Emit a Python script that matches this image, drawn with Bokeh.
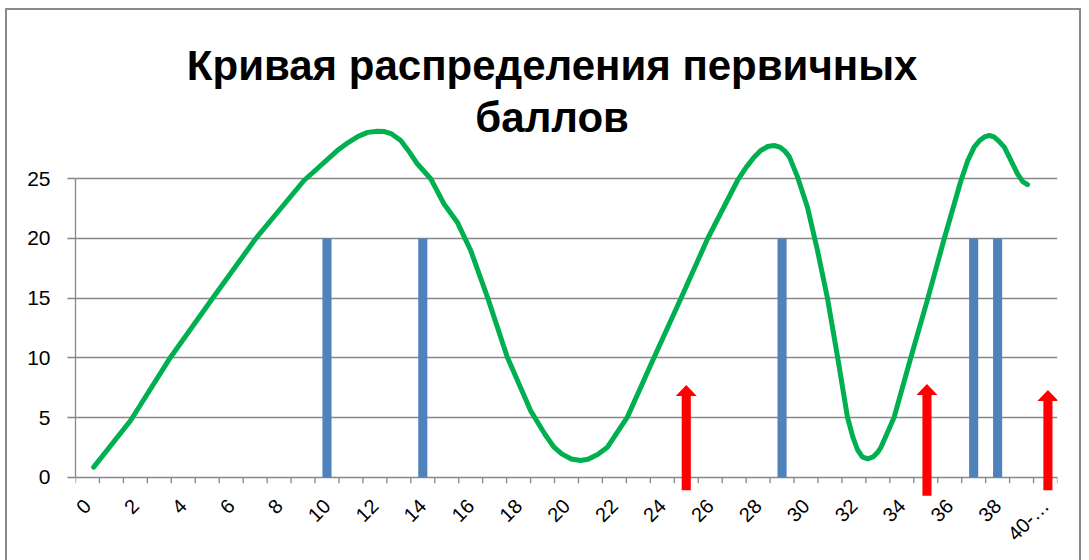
import math
import numpy as np
from bokeh.plotting import figure
from bokeh.models import FixedTicker, Label, ColumnDataSource, Range1d
from bokeh.embed import file_html
from bokeh.resources import INLINE

# ---------------- data ----------------
title_lines = ["Кривая распределения первичных", "баллов"]

x_tick_pos = [0, 2, 4, 6, 8, 10, 12, 14, 16, 18, 20, 22, 24, 26, 28, 30, 32, 34, 36, 38, 40]
x_tick_labels = ["0", "2", "4", "6", "8", "10", "12", "14", "16", "18", "20", "22", "24",
                 "26", "28", "30", "32", "34", "36", "38", "40-…"]
n_categories = 41
y_ticks = [0, 5, 10, 15, 20, 25]

bar_x = [10, 14, 29, 37, 38]
bar_values = [20, 20, 20, 20, 20]

curve_x = [0.26, 1.80, 3.47, 5.21, 7.02, 9.04, 10.43, 10.9, 11.3, 11.7, 12.10, 12.4, 12.7,
           13.08, 13.4, 13.77, 14.33,
           14.88, 15.44, 16.0, 16.70, 17.53, 18.5, 19.1, 19.48, 19.8, 20.2, 20.59, 20.9, 21.3,
           21.71, 22.54, 23.66, 24.77, 25.89, 27.14, 27.5, 27.83, 28.1, 28.4, 28.67, 28.9,
           29.1, 29.3, 29.65, 30.06, 30.48, 30.90, 31.32, 31.73, 31.95, 32.15, 32.35, 32.57,
           32.8, 33.0, 33.13, 33.68, 34.38, 35.08, 35.77, 36.47, 36.75, 37.02, 37.25, 37.45,
           37.65, 37.85, 38.05, 38.28, 38.55, 38.83, 39.05, 39.25]
curve_y = [0.84, 4.75, 10.05, 14.94, 19.97, 24.85, 27.36, 28.05, 28.55, 28.88, 28.98, 28.95,
           28.75, 28.2, 27.35, 26.25, 25.0,
           22.9, 21.36, 18.99, 15.08, 10.05, 5.58, 3.6, 2.51, 1.95, 1.52, 1.40, 1.5, 1.9,
           2.51, 5.03, 10.05, 14.94, 19.97, 24.85, 25.95, 26.8, 27.35, 27.7, 27.78, 27.65,
           27.35, 26.85, 25.13, 22.61, 18.99, 14.94, 10.05, 5.03, 3.4, 2.3, 1.7, 1.54,
           1.7, 2.1, 2.51, 5.03, 10.05, 14.94, 19.97, 24.85, 26.5, 27.64, 28.2, 28.5,
           28.62, 28.5, 28.15, 27.64, 26.55, 25.41, 24.75, 24.51]

arrow_x = [25.0, 35.05, 40.1]
arrow_top = [7.72, 7.8, 7.3]
arrow_bottom = [-1.1, -1.55, -1.1]

# ---------------- styles ----------------
GRID = "#878787"
BAR = "#4F81BD"
GREEN = "#00B050"
RED = "#FF0000"
FONT = "Liberation Sans"
BAR_W = 0.38
HEAD_HW = 0.44
HEAD_H = 0.92
SHAFT_W = 0.38
TICK_LEN = 0.5

p = figure(frame_width=982, frame_height=477,
           min_border_left=75, min_border_right=32, min_border_top=20, min_border_bottom=63,
           x_range=Range1d(-0.5, n_categories - 0.5), y_range=Range1d(-1.70, 38.25),
           output_backend="svg", toolbar_location=None)
p.outline_line_color = None
p.background_fill_color = "white"
p.border_fill_color = None
p.styles = {"background-color": "white",
            "box-shadow": ("inset 5px 8px 0 0 white, inset -8px 0 0 0 white, "
                           "inset 7px 10px 0 0 #8a8a8a, inset -10px 0 0 0 #8a8a8a")}

# x axis: labels from the library axis; its own line/ticks replaced by the 0 gridline
boundaries = list(np.arange(n_categories + 1) - 0.5)
xa = p.xaxis[0]
xa.ticker = FixedTicker(ticks=x_tick_pos, minor_ticks=[])
xa.major_label_overrides = {t: l for t, l in zip(x_tick_pos, x_tick_labels)}
xa.major_tick_line_color = None
xa.minor_tick_line_color = None
xa.axis_line_color = None
xa.major_tick_out = 0
xa.major_tick_in = 0
xa.major_label_orientation = math.pi / 4
xa.major_label_text_font = FONT
xa.major_label_text_font_size = "20px"
xa.major_label_text_color = "black"
xa.major_label_standoff = 5

ya = p.yaxis[0]
ya.ticker = FixedTicker(ticks=y_ticks, minor_ticks=[])
ya.bounds = (0, 25)
ya.major_tick_out = 8
ya.major_tick_in = 0
ya.major_tick_line_color = GRID
ya.major_tick_line_width = 1.3
ya.minor_tick_line_color = None
ya.axis_line_color = GRID
ya.axis_line_width = 1.3
ya.major_label_text_font = FONT
ya.major_label_text_font_size = "21px"
ya.major_label_text_color = "black"
ya.major_label_standoff = 17

p.xgrid.visible = False
p.ygrid.ticker = FixedTicker(ticks=y_ticks)
p.ygrid.grid_line_color = GRID
p.ygrid.grid_line_width = 1.3

# category tick marks below the zero line
p.segment(x0=boundaries, y0=[0] * len(boundaries), x1=boundaries,
          y1=[-TICK_LEN] * len(boundaries), line_color=GRID, line_width=1.3)

# bars
p.vbar(x=bar_x, top=bar_values, bottom=0, width=BAR_W, fill_color=BAR, line_color=None)

# green hand-drawn curve
p.line(curve_x, curve_y, line_color=GREEN, line_width=5, line_cap="round", line_join="round")

# red arrows
shaft_src = ColumnDataSource(dict(x=arrow_x,
                                  top=[t - HEAD_H for t in arrow_top],
                                  bottom=arrow_bottom))
p.vbar(x="x", top="top", bottom="bottom", width=SHAFT_W, source=shaft_src,
       fill_color=RED, line_color=None)
head_xs = [[x - HEAD_HW, x, x + HEAD_HW] for x in arrow_x]
head_ys = [[t - HEAD_H, t, t - HEAD_H] for t in arrow_top]
p.patches(head_xs, head_ys, fill_color=RED, line_color=None)

# title (two lines)
p.add_layout(Label(x=19.4, y=34.44, text=title_lines[0], text_align="center",
                   text_baseline="middle", text_font=FONT,
                   text_font_style="bold", text_font_size="42px", text_color="black"))
p.add_layout(Label(x=19.4, y=30.13, text=title_lines[1], text_align="center",
                   text_baseline="middle", text_font=FONT,
                   text_font_style="bold", text_font_size="42px", text_color="black"))

open("out.html", "w").write(file_html(p, INLINE))
